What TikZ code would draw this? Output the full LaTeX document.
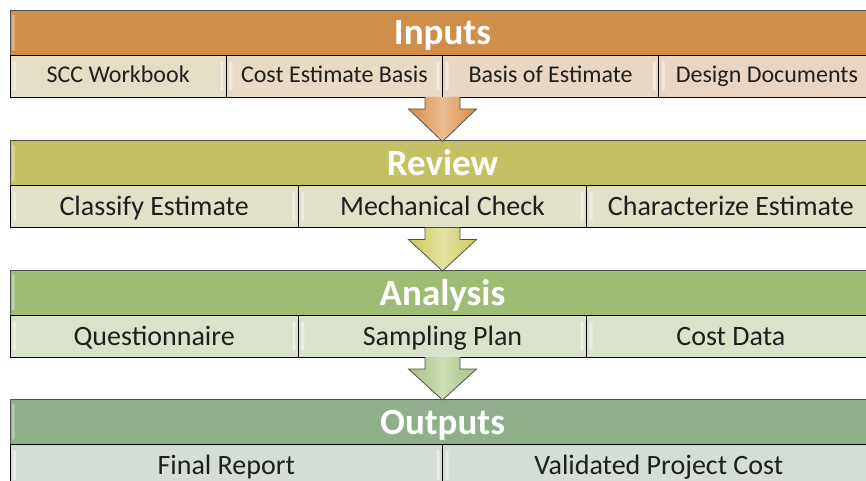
\documentclass[tikz,border=0pt]{standalone}
\usepackage{fontspec}
\setmainfont{Carlito}
\usetikzlibrary{calc}

% stage colours: header, cells, arrow
\definecolor{inHead}{HTML}{CF8F4A}
\definecolor{inCellA}{HTML}{E5DEC7}
\definecolor{inCellB}{HTML}{E8DAC5}
\definecolor{inCellC}{HTML}{E9D7C5}
\definecolor{inCellD}{HTML}{EAD5C4}
\definecolor{inArrow}{HTML}{D98A3D}
\definecolor{rvHead}{HTML}{C4C165}
\definecolor{rvCell}{HTML}{E1E0C9}
\definecolor{rvArrow}{HTML}{CDCA58}
\definecolor{anHead}{HTML}{9FBC75}
\definecolor{anCell}{HTML}{D9E2CB}
\definecolor{anArrow}{HTML}{A5C27B}
\definecolor{ouHead}{HTML}{8FAF8B}
\definecolor{ouCell}{HTML}{D4DED4}
\definecolor{edge}{HTML}{505050}

\tikzset{
  stagehead/.style={draw=edge, line width=0.8pt, fill=#1,
    minimum width=865, minimum height=45, inner sep=0, outer sep=0,
    text height=25pt, text depth=0pt,
    text=white, font=\bfseries\fontsize{37}{40}\selectfont,
    path picture={
      \fill[white, opacity=.35, rounded corners=1.5pt]
        ([xshift=2pt,yshift=-4pt]path picture bounding box.north west)
        rectangle ([xshift=4.5pt,yshift=4pt]path picture bounding box.south west);
    }},
  stagecell/.style={draw=black, line width=0.8pt, fill=#1,
    minimum height=42, inner sep=0, outer sep=0,
    text height=18pt, text depth=0pt,
    text=black!88, font=\fontsize{28}{32}\selectfont,
    path picture={
      \fill[white, opacity=.45, rounded corners=1.5pt]
        ([xshift=3pt,yshift=-6pt]path picture bounding box.north west)
        rectangle ([xshift=6pt,yshift=6pt]path picture bounding box.south west);
      \fill[white, opacity=.45, rounded corners=1.5pt]
        ([xshift=-3pt,yshift=-6pt]path picture bounding box.north east)
        rectangle ([xshift=-6pt,yshift=6pt]path picture bounding box.south east);
    }},
  smallcell/.style={stagecell=#1, text height=14pt,
    font=\fontsize{24}{28}\selectfont},
  blockarrow/.style={draw=edge, line width=0.8pt, line join=miter,
    left color=#1, right color=#1, middle color=#1!55!white},
}

\begin{document}
\begin{tikzpicture}[x=1pt, y=-1pt]
\useasboundingbox (0,0) rectangle (866,481);
\clip (0,0) rectangle (866,481);

% ---- Inputs ----
\node[stagehead=inHead] (inH) at (442.5,32.5) {Inputs};
\node[smallcell=inCellA, minimum width=216.25] (in1) at (118.125,76) {SCC Workbook};
\node[smallcell=inCellB, minimum width=216.25] (in2) at (334.375,76) {Cost Estimate Basis};
\node[smallcell=inCellC, minimum width=216.25] (in3) at (550.625,76) {Basis of Estimate};
\node[smallcell=inCellD, minimum width=216.25] (in4) at (766.875,76) {Design Documents};

% ---- Review ----
\node[stagehead=rvHead] (rvH) at (442.5,163) {Review};
\node[stagecell=rvCell, minimum width=288.33] (rv1) at (154.17,206.5) {Classify Estimate};
\node[stagecell=rvCell, minimum width=288.33] (rv2) at (442.5,206.5) {Mechanical Check};
\node[stagecell=rvCell, minimum width=288.33] (rv3) at (730.83,206.5) {Characterize Estimate};

% ---- Analysis ----
\node[stagehead=anHead] (anH) at (442.5,292.5) {Analysis};
\node[stagecell=anCell, minimum width=288.33] (an1) at (154.17,336) {Questionnaire};
\node[stagecell=anCell, minimum width=288.33] (an2) at (442.5,336) {Sampling Plan};
\node[stagecell=anCell, minimum width=288.33] (an3) at (730.83,336) {Cost Data};

% ---- Outputs ----
\node[stagehead=ouHead] (ouH) at (442.5,421.5) {Outputs};
\node[stagecell=ouCell, minimum width=432.5] (ou1) at (226.25,465) {Final Report};
\node[stagecell=ouCell, minimum width=432.5] (ou2) at (658.75,465) {Validated Project Cost};

% ---- block arrows between the stages ----
\foreach \from/\to/\col in {in1/rvH/inArrow, rv1/anH/rvArrow, an1/ouH/anArrow}{
  \coordinate (base) at (\to.center |- \from.south);
  \coordinate (tip) at ($(\to.north)+(0,1)$);
  \draw[blockarrow=\col]
    ($(base)+(-17.5,0)$) -- ($(base)+(-17.5,12)$) -- ($(base)+(-34,12)$)
    -- (tip) -- ($(base)+(34,12)$) -- ($(base)+(17.5,12)$)
    -- ($(base)+(17.5,0)$);
}
\end{tikzpicture}
\end{document}
